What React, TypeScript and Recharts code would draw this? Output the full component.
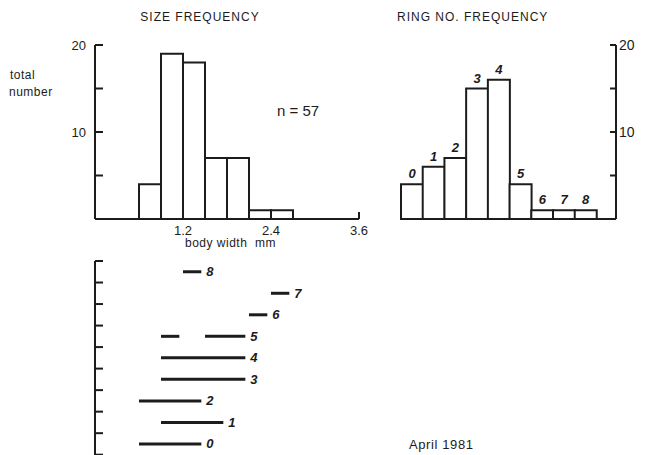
import React from "react";
import { BarChart, Bar, XAxis, YAxis, LabelList, ComposedChart, Line } from "recharts";

const INK = "#1c1c1c";
const FONT = '"Liberation Sans", Arial, Helvetica, sans-serif';

// size frequency: body width bins (mm, bin midpoints) and counts
const binMid = [0.75, 1.05, 1.35, 1.65, 1.95, 2.25, 2.55];
const binCount = [4, 19, 18, 7, 7, 1, 1];
const widthTicks = [1.2, 2.4, 3.6];
const countTicks = [5, 10, 15, 20];
const countLabels = [10, 20];

// ring number frequency
const ringNo = [0, 1, 2, 3, 4, 5, 6, 7, 8];
const ringCount = [4, 6, 7, 15, 16, 4, 1, 1, 1];

// body width range found for each ring number
const rangeRing = [0, 1, 2, 3, 4, 5, 5, 6, 7, 8];
const rangeFrom = [0.6, 0.9, 0.6, 0.9, 0.9, 0.9, 1.5, 2.1, 2.4, 1.2];
const rangeTo = [1.45, 1.75, 1.45, 2.05, 2.05, 1.15, 2.05, 2.35, 2.65, 1.45];
const ringTicks = [-0.5, 0.5, 1.5, 2.5, 3.5, 4.5, 5.5, 6.5, 7.5, 8.5];

const sizeData = binMid.map((mid, i) => ({ mid, count: binCount[i] }));
const ringData = ringNo.map((ring, i) => ({ ring, count: ringCount[i] }));
const segments = rangeRing.map((ring, i) => ({
  ring,
  last: rangeRing.lastIndexOf(ring) === i,
  points: [
    { x: rangeFrom[i], y: ring },
    { x: rangeTo[i], y: ring },
  ],
}));

const axisLine = { stroke: INK, strokeWidth: 2 };

function T({ x, y, size = 12, spacing = 0, center = false, children }: any) {
  return (
    <div
      style={{
        position: "absolute",
        left: x,
        top: y - size / 2,
        fontSize: size,
        lineHeight: `${size}px`,
        letterSpacing: spacing,
        whiteSpace: "pre",
        color: INK,
        fontFamily: FONT,
        transform: center ? "translateX(-50%)" : undefined,
      }}
    >
      {children}
    </div>
  );
}

const LeftTick = ({ x, y, payload, labels }: any) => (
  <g>
    <line x1={x} x2={x + 8} y1={y} y2={y} stroke={INK} strokeWidth={2} />
    {labels && labels.includes(payload.value) && (
      <text x={x - 9} y={y} textAnchor="end" dominantBaseline="central" fontSize={13} fill={INK} fontFamily={FONT}>
        {payload.value}
      </text>
    )}
  </g>
);

const RightTick = ({ x, y, payload }: any) => (
  <g>
    <line x1={x - 6} x2={x} y1={y} y2={y} stroke={INK} strokeWidth={2} />
    {countLabels.includes(payload.value) && (
      <text x={x + 3} y={y} textAnchor="start" dominantBaseline="central" fontSize={14} fill={INK} fontFamily={FONT}>
        {payload.value}
      </text>
    )}
  </g>
);

const BottomTick = ({ x, y, payload }: any) => (
  <g>
    <line x1={x} x2={x} y1={y} y2={y - 7} stroke={INK} strokeWidth={2} />
    <text x={x} y={y + 11} textAnchor="middle" dominantBaseline="central" fontSize={13} fill={INK} fontFamily={FONT}>
      {payload.value}
    </text>
  </g>
);

const numStyle = { fontSize: 13, fontWeight: "bold", fontStyle: "italic", fill: INK, fontFamily: FONT };

export default function App() {
  return (
    <div
      style={{
        position: "absolute",
        left: 0,
        top: 0,
        width: 645,
        height: 455,
        overflow: "hidden",
        background: "#fff",
      }}
    >
      <div style={{ position: "absolute", left: 0, top: 0 }}>
        <BarChart width={380} height={260} data={sizeData} barCategoryGap={0} margin={{ top: 45, right: 21, bottom: 11, left: 0 }}>
          <XAxis
            type="number"
            dataKey="mid"
            domain={[0, 3.6]}
            ticks={widthTicks}
            interval={0}
            height={30}
            axisLine={axisLine}
            tickLine={false}
            tickSize={0}
            tickMargin={0}
            tick={<BottomTick />}
          />
          <YAxis
            type="number"
            domain={[0, 20]}
            ticks={countTicks}
            interval={0}
            width={95}
            axisLine={axisLine}
            tickLine={false}
            tickSize={0}
            tickMargin={0}
            tick={<LeftTick labels={countLabels} />}
          />
          <Bar dataKey="count" fill="#fff" stroke={INK} strokeWidth={2} isAnimationActive={false} />
        </BarChart>
      </div>

      <div style={{ position: "absolute", left: 360, top: 0 }}>
        <BarChart width={285} height={260} data={ringData} barCategoryGap={0} margin={{ top: 45, right: 0, bottom: 11, left: 41 }}>
          <XAxis
            type="number"
            dataKey="ring"
            domain={[-0.5, 9.4]}
            height={30}
            axisLine={axisLine}
            tickLine={false}
            tick={false}
          />
          <YAxis
            orientation="right"
            type="number"
            domain={[0, 20]}
            ticks={countTicks}
            interval={0}
            width={29}
            axisLine={axisLine}
            tickLine={false}
            tickSize={0}
            tickMargin={0}
            tick={<RightTick />}
          />
          <Bar dataKey="count" fill="#fff" stroke={INK} strokeWidth={2} isAnimationActive={false}>
            <LabelList
              dataKey="ring"
              content={(p: any) => (
                <text x={p.x + p.width / 2} y={p.y - 6} textAnchor="middle" style={numStyle}>
                  {p.value}
                </text>
              )}
            />
          </Bar>
        </BarChart>
      </div>

      <div style={{ position: "absolute", left: 0, top: 250 }}>
        <ComposedChart width={380} height={215} margin={{ top: 11, right: 21, bottom: 6, left: 0 }}>
          <XAxis type="number" dataKey="x" domain={[0, 3.6]} hide />
          <YAxis
            type="number"
            domain={[-0.7, 8.5]}
            ticks={ringTicks}
            interval={0}
            width={95}
            axisLine={axisLine}
            tickLine={false}
            tickSize={0}
            tickMargin={0}
            tick={<LeftTick labels={[]} />}
          />
          {segments.map((s, i) => (
            <Line
              key={i}
              data={s.points}
              dataKey="y"
              stroke={INK}
              strokeWidth={3}
              dot={false}
              isAnimationActive={false}
            >
              {s.last && (
                <LabelList
                  dataKey="y"
                  content={(p: any) =>
                    p.index === 1 ? (
                      <text x={p.x + 5} y={p.y} dominantBaseline="central" style={numStyle}>
                        {s.ring}
                      </text>
                    ) : null
                  }
                />
              )}
            </Line>
          ))}
        </ComposedChart>
      </div>

      <T x={200} y={17} spacing={1} center>SIZE FREQUENCY</T>
      <T x={397} y={17} spacing={1}>RING NO. FREQUENCY</T>
      <T x={10} y={75} size={12} spacing={0.5}>total</T>
      <T x={9} y={92} size={12} spacing={0.5}>number</T>
      <T x={277} y={110} size={15}>n = 57</T>
      <T x={185} y={243} size={12} spacing={0.5}>body width  mm</T>
      <T x={409} y={444} size={13} spacing={0.6}>April 1981</T>
    </div>
  );
}
